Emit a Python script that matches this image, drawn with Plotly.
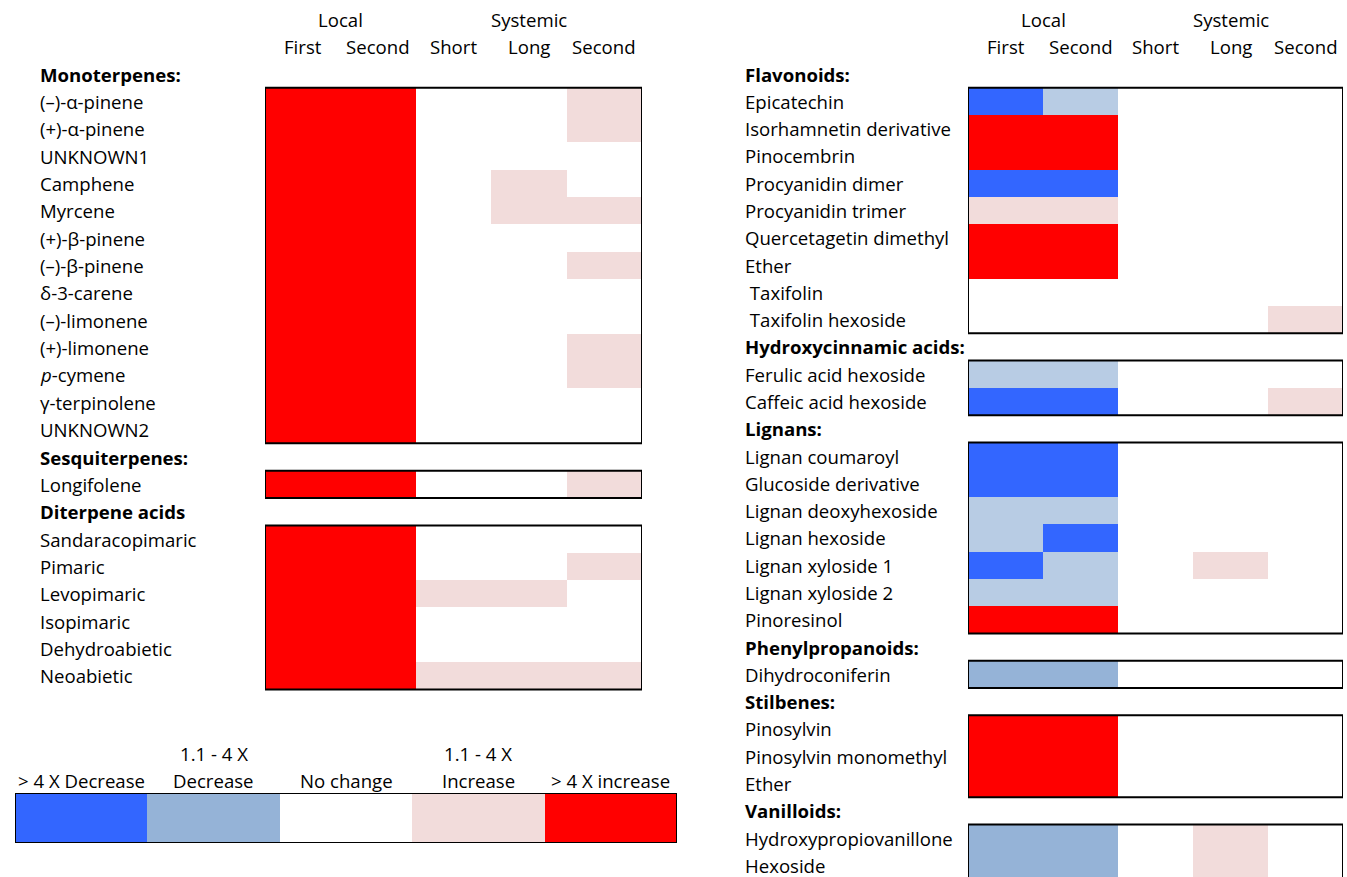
import plotly.graph_objects as go

# ---------------- data ----------------
columns = ["First", "Second", "Short", "Long", "Second"]
col_groups = ["Local", "Systemic"]
col_group_spans = [(0, 1), (2, 4)]

# level codes: 0 >4X decrease, 1 1.1-4X decrease, 2 1.1-4X decrease (lighter shade),
#              3 no change, 4 1.1-4X increase, 5 >4X increase
level_colors = ["#3366FF", "#95B3D7", "#B8CCE4", "#FFFFFF", "#F2DCDB", "#FF0000"]
legend_codes = [0, 1, 3, 4, 5]
legend_top = ["", "1.1 - 4 X", "", "1.1 - 4 X", ""]
legend_bottom = ["> 4 X Decrease", "Decrease", "No change", "Increase", "> 4 X increase"]

left_groups = ["Monoterpenes:", "Sesquiterpenes:", "Diterpene acids"]
left_compounds = [
    ["(–)-α-pinene", "(+)-α-pinene", "UNKNOWN1", "Camphene", "Myrcene", "(+)-β-pinene",
     "(–)-β-pinene", "δ-3-carene", "(–)-limonene", "(+)-limonene", "<i>p</i>-cymene",
     "γ-terpinolene", "UNKNOWN2"],
    ["Longifolene"],
    ["Sandaracopimaric", "Pimaric", "Levopimaric", "Isopimaric", "Dehydroabietic", "Neoabietic"],
]
left_levels = [
    [[5, 5, 3, 3, 4], [5, 5, 3, 3, 4], [5, 5, 3, 3, 3], [5, 5, 3, 4, 3], [5, 5, 3, 4, 4],
     [5, 5, 3, 3, 3], [5, 5, 3, 3, 4], [5, 5, 3, 3, 3], [5, 5, 3, 3, 3], [5, 5, 3, 3, 4],
     [5, 5, 3, 3, 4], [5, 5, 3, 3, 3], [5, 5, 3, 3, 3]],
    [[5, 5, 3, 3, 4]],
    [[5, 5, 3, 3, 3], [5, 5, 3, 3, 4], [5, 5, 4, 4, 3], [5, 5, 3, 3, 3], [5, 5, 3, 3, 3],
     [5, 5, 4, 4, 4]],
]

right_groups = ["Flavonoids:", "Hydroxycinnamic acids:", "Lignans:", "Phenylpropanoids:",
                "Stilbenes:", "Vanilloids:"]
right_compounds = [
    ["Epicatechin", "Isorhamnetin derivative", "Pinocembrin", "Procyanidin dimer",
     "Procyanidin trimer", "Quercetagetin dimethyl", "Ether", " Taxifolin", " Taxifolin hexoside"],
    ["Ferulic acid hexoside", "Caffeic acid hexoside"],
    ["Lignan coumaroyl", "Glucoside derivative", "Lignan deoxyhexoside", "Lignan hexoside",
     "Lignan xyloside 1", "Lignan xyloside 2", "Pinoresinol"],
    ["Dihydroconiferin"],
    ["Pinosylvin", "Pinosylvin monomethyl", "Ether"],
    ["Hydroxypropiovanillone", "Hexoside"],
]
right_levels = [
    [[0, 2, 3, 3, 3], [5, 5, 3, 3, 3], [5, 5, 3, 3, 3], [0, 0, 3, 3, 3], [4, 4, 3, 3, 3],
     [5, 5, 3, 3, 3], [5, 5, 3, 3, 3], [3, 3, 3, 3, 3], [3, 3, 3, 3, 4]],
    [[2, 2, 3, 3, 3], [0, 0, 3, 3, 4]],
    [[0, 0, 3, 3, 3], [0, 0, 3, 3, 3], [2, 2, 3, 3, 3], [2, 0, 3, 3, 3], [0, 2, 3, 4, 3],
     [2, 2, 3, 3, 3], [5, 5, 3, 3, 3]],
    [[1, 1, 3, 3, 3]],
    [[5, 5, 3, 3, 3], [5, 5, 3, 3, 3], [5, 5, 3, 3, 3]],
    [[1, 1, 3, 4, 3], [1, 1, 3, 4, 3]],
]

# ---------------- styling ----------------
W, H = 1347, 877
FONT = "Open Sans"
FS = 18.6
n_levels = len(level_colors)
colorscale = []
for i, c in enumerate(level_colors):
    colorscale.append([i / n_levels, c])
    colorscale.append([(i + 1) / n_levels, c])

FIRST_ROW_PX = 74


def build(groups, compounds, levels):
    rows, z, labels, boxes = [], [], [], []
    r = 0
    for g, comps, levs in zip(groups, compounds, levels):
        labels.append((r, "<b>" + g + "</b>"))
        z.append([None] * len(columns))
        r += 1
        start = r
        for c, lv in zip(comps, levs):
            labels.append((r, c))
            z.append(lv)
            r += 1
        boxes.append((start, r - 1))
    return list(range(r)), z, labels, boxes


fig = go.Figure()
panels = [
    (left_groups, left_compounds, left_levels, "x", "y", 265, 642, 38, 27.36),
    (right_groups, right_compounds, right_levels, "x2", "y2", 968, 1343, 743, 27.29),
]
layout_axes = {}
annotations = []
shapes = []
for k, (groups, comps, levs, xa, ya, px0, px1, lab_px, pitch) in enumerate(panels):
    rows, z, labels, boxes = build(groups, comps, levs)
    fig.add_trace(go.Heatmap(
        z=z, x=list(range(len(columns))), y=rows, xaxis=xa, yaxis=ya,
        colorscale=colorscale, zmin=-0.5, zmax=n_levels - 0.5, showscale=False,
        hoverinfo="skip", xgap=0, ygap=0))
    xname = "xaxis" if xa == "x" else "xaxis2"
    yname = "yaxis" if ya == "y" else "yaxis2"
    layout_axes[xname] = dict(domain=[px0 / W, px1 / W], range=[-0.5, len(columns) - 0.5],
                              visible=False, fixedrange=True, anchor=ya)
    layout_axes[yname] = dict(domain=[0, 1],
                              range=[(H - FIRST_ROW_PX) / pitch, -FIRST_ROW_PX / pitch],
                              visible=False, fixedrange=True, anchor=xa)
    for r, t in labels:
        annotations.append(dict(x=lab_px / W, xref="paper", y=r, yref=ya, text=t,
                                showarrow=False, xanchor="left", yanchor="middle",
                                font=dict(family=FONT, size=FS, color="black")))
    for (s, e) in boxes:
        shapes.append(dict(type="rect", xref=xa, yref=ya, x0=-0.5, x1=len(columns) - 0.5,
                           y0=s - 0.5, y1=e + 0.5, line=dict(color="black", width=2),
                           fillcolor="rgba(0,0,0,0)", layer="above"))
    for ci, c in enumerate(columns):
        annotations.append(dict(x=ci, xref=xa, y=-1, yref=ya, text=c, showarrow=False,
                                xanchor="center", yanchor="middle",
                                font=dict(family=FONT, size=FS, color="black")))
    for g, (a, b) in zip(col_groups, col_group_spans):
        annotations.append(dict(x=(a + b) / 2, xref=xa, y=-2, yref=ya, text=g, showarrow=False,
                                xanchor="center", yanchor="middle",
                                font=dict(family=FONT, size=FS, color="black")))

# legend strip
fig.add_trace(go.Heatmap(
    z=[legend_codes], x=list(range(len(legend_codes))), y=[0], xaxis="x3", yaxis="y3",
    colorscale=colorscale, zmin=-0.5, zmax=n_levels - 0.5, showscale=False, hoverinfo="skip"))
layout_axes["xaxis3"] = dict(domain=[15 / W, 677 / W], range=[-0.5, len(legend_codes) - 0.5],
                             visible=False, fixedrange=True, anchor="y3")
layout_axes["yaxis3"] = dict(domain=[1 - 843 / H, 1 - 793 / H], range=[-0.5, 0.5],
                             visible=False, fixedrange=True, anchor="x3")
shapes.append(dict(type="rect", xref="x3", yref="y3", x0=-0.5, x1=len(legend_codes) - 0.5,
                   y0=-0.5, y1=0.5, line=dict(color="black", width=2),
                   fillcolor="rgba(0,0,0,0)", layer="above"))
for i, (t1, t2) in enumerate(zip(legend_top, legend_bottom)):
    annotations.append(dict(x=i, xref="x3", y=1 - 780 / H, yref="paper", text=t2,
                            showarrow=False, xanchor="center", yanchor="middle",
                            font=dict(family=FONT, size=FS, color="black")))
    if t1:
        annotations.append(dict(x=i, xref="x3", y=1 - 753 / H, yref="paper", text=t1,
                                showarrow=False, xanchor="center", yanchor="middle",
                                font=dict(family=FONT, size=FS, color="black")))

fig.update_layout(width=W, height=H, margin=dict(l=0, r=0, t=0, b=0),
                  paper_bgcolor="white", plot_bgcolor="rgba(0,0,0,0)",
                  showlegend=False, annotations=annotations, shapes=shapes,
                  font=dict(family=FONT, size=FS), **layout_axes)
fig.write_html("out.html", config={"displayModeBar": False},
               post_script="document.body.style.margin='0';"
                           "document.body.style.padding='0';"
                           "document.body.style.overflow='hidden';")
